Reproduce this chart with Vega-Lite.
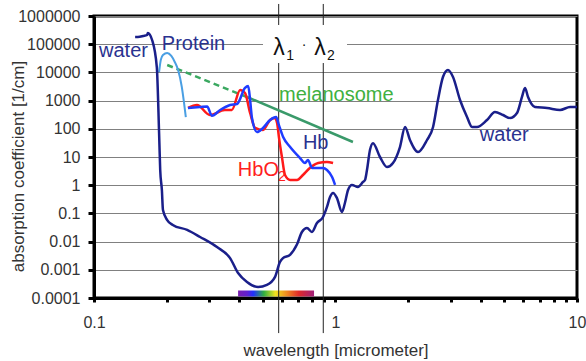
{
  "$schema": "https://vega.github.io/schema/vega-lite/v6.json",
  "width": 483,
  "height": 282,
  "autosize": {"type": "none"},
  "padding": {"left": 94, "top": 16, "right": 9, "bottom": 63},
  "background": "white",
  "config": {
    "view": {"stroke": "black", "strokeWidth": 3},
    "font": "Liberation Sans",
    "axis": {
      "domainColor": "black", "domainWidth": 3, "tickColor": "black", "tickWidth": 3,
      "labelFont": "Liberation Sans", "titleFont": "Liberation Sans",
      "labelColor": "#333333", "titleColor": "#333333", "titleFontWeight": "normal",
      "labelFontSize": 16, "titleFontSize": 17
    }
  },
  "datasets": {
    "curves": [
      {"series": "water", "x": 0.148, "y": 180000},
      {"series": "water", "x": 0.152, "y": 180000},
      {"series": "water", "x": 0.160, "y": 195000},
      {"series": "water", "x": 0.166, "y": 212000},
      {"series": "water", "x": 0.167, "y": 250000},
      {"series": "water", "x": 0.174, "y": 141000},
      {"series": "water", "x": 0.182, "y": 15500},
      {"series": "water", "x": 0.186, "y": 71},
      {"series": "water", "x": 0.188, "y": 3.46},
      {"series": "water", "x": 0.191, "y": 0.68},
      {"series": "water", "x": 0.193, "y": 0.132},
      {"series": "water", "x": 0.201, "y": 0.058},
      {"series": "water", "x": 0.212, "y": 0.039},
      {"series": "water", "x": 0.243, "y": 0.026},
      {"series": "water", "x": 0.275, "y": 0.0146},
      {"series": "water", "x": 0.323, "y": 0.0064},
      {"series": "water", "x": 0.366, "y": 0.0026},
      {"series": "water", "x": 0.395, "y": 0.00077},
      {"series": "water", "x": 0.430, "y": 0.00037},
      {"series": "water", "x": 0.478, "y": 0.000245},
      {"series": "water", "x": 0.520, "y": 0.00029},
      {"series": "water", "x": 0.562, "y": 0.00056},
      {"series": "water", "x": 0.589, "y": 0.0019},
      {"series": "water", "x": 0.606, "y": 0.0026},
      {"series": "water", "x": 0.648, "y": 0.0034},
      {"series": "water", "x": 0.693, "y": 0.008},
      {"series": "water", "x": 0.726, "y": 0.0219},
      {"series": "water", "x": 0.762, "y": 0.0303},
      {"series": "water", "x": 0.799, "y": 0.0219},
      {"series": "water", "x": 0.838, "y": 0.0457},
      {"series": "water", "x": 0.888, "y": 0.0745},
      {"series": "water", "x": 0.922, "y": 0.169},
      {"series": "water", "x": 0.949, "y": 0.382},
      {"series": "water", "x": 0.977, "y": 0.53},
      {"series": "water", "x": 1.014, "y": 0.35},
      {"series": "water", "x": 1.064, "y": 0.112},
      {"series": "water", "x": 1.094, "y": 0.234},
      {"series": "water", "x": 1.127, "y": 0.68},
      {"series": "water", "x": 1.170, "y": 1.02},
      {"series": "water", "x": 1.239, "y": 0.86},
      {"series": "water", "x": 1.300, "y": 1.30},
      {"series": "water", "x": 1.325, "y": 1.53},
      {"series": "water", "x": 1.350, "y": 3.46},
      {"series": "water", "x": 1.389, "y": 17.7},
      {"series": "water", "x": 1.430, "y": 31},
      {"series": "water", "x": 1.528, "y": 10},
      {"series": "water", "x": 1.634, "y": 4.4},
      {"series": "water", "x": 1.730, "y": 6.1},
      {"series": "water", "x": 1.849, "y": 22.6},
      {"series": "water", "x": 1.941, "y": 116},
      {"series": "water", "x": 2.034, "y": 40},
      {"series": "water", "x": 2.197, "y": 15},
      {"series": "water", "x": 2.393, "y": 40},
      {"series": "water", "x": 2.535, "y": 116},
      {"series": "water", "x": 2.656, "y": 1050},
      {"series": "water", "x": 2.786, "y": 6870},
      {"series": "water", "x": 2.922, "y": 12200},
      {"series": "water", "x": 3.066, "y": 6870},
      {"series": "water", "x": 3.278, "y": 1050},
      {"series": "water", "x": 3.505, "y": 262},
      {"series": "water", "x": 3.676, "y": 116},
      {"series": "water", "x": 3.854, "y": 116},
      {"series": "water", "x": 4.240, "y": 205},
      {"series": "water", "x": 4.575, "y": 394},
      {"series": "water", "x": 4.939, "y": 308},
      {"series": "water", "x": 5.280, "y": 241},
      {"series": "water", "x": 5.643, "y": 363},
      {"series": "water", "x": 5.918, "y": 1343},
      {"series": "water", "x": 6.09, "y": 2800},
      {"series": "water", "x": 6.27, "y": 1343},
      {"series": "water", "x": 6.70, "y": 593},
      {"series": "water", "x": 7.52, "y": 547},
      {"series": "water", "x": 8.51, "y": 464},
      {"series": "water", "x": 9.36, "y": 593},
      {"series": "water", "x": 10, "y": 593},
      {"series": "Protein", "x": 0.186, "y": 10300},
      {"series": "Protein", "x": 0.189, "y": 27500},
      {"series": "Protein", "x": 0.193, "y": 41400},
      {"series": "Protein", "x": 0.201, "y": 48700},
      {"series": "Protein", "x": 0.209, "y": 38200},
      {"series": "Protein", "x": 0.216, "y": 23400},
      {"series": "Protein", "x": 0.223, "y": 12200},
      {"series": "Protein", "x": 0.231, "y": 3030},
      {"series": "Protein", "x": 0.236, "y": 822},
      {"series": "Protein", "x": 0.240, "y": 262},
      {"series": "HbO2", "x": 0.245, "y": 550},
      {"series": "HbO2", "x": 0.267, "y": 698},
      {"series": "HbO2", "x": 0.302, "y": 308},
      {"series": "HbO2", "x": 0.348, "y": 464},
      {"series": "HbO2", "x": 0.372, "y": 464},
      {"series": "HbO2", "x": 0.403, "y": 2380},
      {"series": "HbO2", "x": 0.422, "y": 1860},
      {"series": "HbO2", "x": 0.443, "y": 363},
      {"series": "HbO2", "x": 0.465, "y": 107},
      {"series": "HbO2", "x": 0.501, "y": 91},
      {"series": "HbO2", "x": 0.536, "y": 205},
      {"series": "HbO2", "x": 0.561, "y": 241},
      {"series": "HbO2", "x": 0.573, "y": 161},
      {"series": "HbO2", "x": 0.583, "y": 51},
      {"series": "HbO2", "x": 0.600, "y": 10},
      {"series": "HbO2", "x": 0.618, "y": 2.3},
      {"series": "HbO2", "x": 0.649, "y": 1.53},
      {"series": "HbO2", "x": 0.693, "y": 1.53},
      {"series": "HbO2", "x": 0.733, "y": 2.3},
      {"series": "HbO2", "x": 0.783, "y": 4.07},
      {"series": "HbO2", "x": 0.848, "y": 6.1},
      {"series": "HbO2", "x": 0.922, "y": 6.65},
      {"series": "HbO2", "x": 0.977, "y": 6.1},
      {"series": "Hb", "x": 0.245, "y": 547},
      {"series": "Hb", "x": 0.275, "y": 593},
      {"series": "Hb", "x": 0.294, "y": 620},
      {"series": "Hb", "x": 0.308, "y": 290},
      {"series": "Hb", "x": 0.333, "y": 464},
      {"series": "Hb", "x": 0.366, "y": 698},
      {"series": "Hb", "x": 0.391, "y": 757},
      {"series": "Hb", "x": 0.422, "y": 2800},
      {"series": "Hb", "x": 0.435, "y": 3300},
      {"series": "Hb", "x": 0.443, "y": 1050},
      {"series": "Hb", "x": 0.451, "y": 241},
      {"series": "Hb", "x": 0.473, "y": 77},
      {"series": "Hb", "x": 0.501, "y": 107},
      {"series": "Hb", "x": 0.536, "y": 205},
      {"series": "Hb", "x": 0.568, "y": 262},
      {"series": "Hb", "x": 0.583, "y": 136},
      {"series": "Hb", "x": 0.607, "y": 51},
      {"series": "Hb", "x": 0.649, "y": 22.6},
      {"series": "Hb", "x": 0.713, "y": 9.2},
      {"series": "Hb", "x": 0.748, "y": 6.1},
      {"series": "Hb", "x": 0.769, "y": 7.8},
      {"series": "Hb", "x": 0.800, "y": 4.07},
      {"series": "Hb", "x": 0.838, "y": 4.07},
      {"series": "Hb", "x": 0.887, "y": 4.07},
      {"series": "Hb", "x": 0.922, "y": 3.46},
      {"series": "Hb", "x": 0.968, "y": 1.95},
      {"series": "Hb", "x": 0.996, "y": 1.02}
    ],
    "melanosome": [
      {"part": "dashed", "x": 0.201, "y": 18300},
      {"part": "dashed", "x": 0.430, "y": 1343},
      {"part": "solid", "x": 0.430, "y": 1343},
      {"part": "solid", "x": 1.181, "y": 34}
    ],
    "lambdas": [
      {"name": "λ1 top", "x": 0.5817, "y": 2670000, "y2": 480000},
      {"name": "λ1", "x": 0.5817, "y": 21500, "y2": 0.0000057},
      {"name": "λ2 top", "x": 0.890, "y": 2670000, "y2": 480000},
      {"name": "λ2", "x": 0.890, "y": 21500, "y2": 0.0000057}
    ],
    "labelbox": [
      {"x": 0.501, "x2": 1.116, "y": 480000, "y2": 21500}
    ],
    "spectrum": [
      {"x": 0.395, "x2": 0.815, "y": 0.000185, "y2": 0.000113}
    ],
    "labels": [
      {"text": "water", "kind": "navy", "x": 0.1049, "y": 35200},
      {"text": "Protein", "kind": "navy", "x": 0.191, "y": 62200},
      {"text": "melanosome", "kind": "green", "x": 0.584, "y": 1000},
      {"text": "Hb", "kind": "navy", "x": 0.733, "y": 19.2},
      {"text": "HbO", "kind": "red", "x": 0.394, "y": 2.12},
      {"text": "water", "kind": "navy", "x": 3.96, "y": 36.9}
    ],
    "lambdatext": [
      {"text": "λ", "kind": "black", "x": 0.583, "y": 41400},
      {"text": "λ", "kind": "black", "x": 0.863, "y": 41400}
    ],
    "subs": [
      {"text": "1", "kind": "black", "x": 0.649, "y": 27500},
      {"text": "·", "kind": "black", "x": 0.741, "y": 67600},
      {"text": "2", "kind": "black", "x": 0.957, "y": 27500},
      {"text": "2", "kind": "red", "x": 0.600, "y": 1.41}
    ]
  },
  "encoding": {
    "x": {"field": "x", "type": "quantitative", "scale": {"type": "log", "domain": [0.1, 10]},
      "axis": {
        "values": [0.1,0.2,0.3,0.4,0.5,0.6,0.7,0.8,0.9,1,2,3,4,5,6,7,8,9,10],
        "labelExpr": "(datum.value == 0.1 || datum.value == 1 || datum.value == 10) ? '' + datum.value : ''",
        "grid": false, "tickSize": 4, "labelPadding": 12, "labelOverlap": false, "labelFlush": false,
        "title": "wavelength [micrometer]", "titleY": 52, "titleBaseline": "middle"
      }},
    "y": {"field": "y", "type": "quantitative", "scale": {"type": "log", "domain": [0.0001, 1000000]},
      "axis": {
        "values": [0.0001,0.001,0.01,0.1,1,10,100,1000,10000,100000,1000000],
        "labelExpr": "'' + datum.value",
        "grid": true, "gridColor": "#808080", "gridWidth": 1,
        "tickSize": 6, "labelPadding": 8, "labelOverlap": false, "labelFlush": false,
        "title": "absorption coefficient [1/cm]", "titleX": -76, "titleY": 150,
        "titleAngle": -90, "titleAlign": "center", "titleBaseline": "middle"
      }}
  },
  "layer": [
    {
      "data": {"name": "labelbox"},
      "mark": {"type": "rect", "color": "white"},
      "encoding": {
        "x2": {"field": "x2"},
        "y2": {"field": "y2"}
      }
    },
    {
      "data": {"name": "spectrum"},
      "mark": {"type": "rect", "color": {"gradient": "linear", "x1": 0, "y1": 0, "x2": 1, "y2": 0,
        "stops": [
          {"offset": 0, "color": "#7a1fb0"},
          {"offset": 0.12, "color": "#6020d0"},
          {"offset": 0.2, "color": "#2030ff"},
          {"offset": 0.34, "color": "#30b040"},
          {"offset": 0.49, "color": "#f0e020"},
          {"offset": 0.64, "color": "#f08a20"},
          {"offset": 0.8, "color": "#e02a2a"},
          {"offset": 1, "color": "#a0207a"}
        ]}},
      "encoding": {
        "x2": {"field": "x2"},
        "y2": {"field": "y2"}
      }
    },
    {
      "data": {"name": "lambdas"},
      "mark": {"type": "rule", "color": "#222222", "strokeWidth": 1},
      "encoding": {
        "y2": {"field": "y2"}
      }
    },
    {
      "data": {"name": "melanosome"},
      "transform": [{"filter": "datum.part == 'dashed'"}],
      "mark": {"type": "line", "color": "#3aa860", "strokeWidth": 2.5, "strokeDash": [6, 4]},
      "encoding": {}
    },
    {
      "data": {"name": "melanosome"},
      "transform": [{"filter": "datum.part == 'solid'"}],
      "mark": {"type": "line", "color": "#3a9a6a", "strokeWidth": 2.5},
      "encoding": {}
    },
    {
      "data": {"name": "curves"},
      "transform": [{"filter": "datum.series == 'Protein'"}],
      "mark": {"type": "line", "color": "#4a9fe3", "strokeWidth": 2, "interpolate": "monotone"},
      "encoding": {}
    },
    {
      "data": {"name": "curves"},
      "transform": [{"filter": "datum.series == 'HbO2'"}],
      "mark": {"type": "line", "color": "#ff1a1a", "strokeWidth": 2.5, "interpolate": "monotone"},
      "encoding": {}
    },
    {
      "data": {"name": "curves"},
      "transform": [{"filter": "datum.series == 'Hb'"}],
      "mark": {"type": "line", "color": "#1f3cff", "strokeWidth": 2.5, "interpolate": "monotone"},
      "encoding": {}
    },
    {
      "data": {"name": "curves"},
      "transform": [{"filter": "datum.series == 'water'"}],
      "mark": {"type": "line", "color": "#1a1f8a", "strokeWidth": 2.5, "interpolate": "monotone"},
      "encoding": {}
    },
    {
      "data": {"name": "labels"},
      "mark": {"type": "text", "fontSize": 20, "align": "left", "baseline": "alphabetic", "font": "Liberation Sans"},
      "encoding": {
        "text": {"field": "text"},
        "color": {"field": "kind", "type": "nominal", "legend": null,
          "scale": {"domain": ["navy", "green", "red", "black"], "range": ["#2a3290", "#40b040", "#ff2020", "#111111"]}}
      }
    },
    {
      "data": {"name": "lambdatext"},
      "mark": {"type": "text", "fontSize": 23, "align": "center", "baseline": "alphabetic", "font": "Liberation Sans"},
      "encoding": {
        "text": {"field": "text"},
        "color": {"field": "kind", "type": "nominal", "legend": null}
      }
    },
    {
      "data": {"name": "subs"},
      "mark": {"type": "text", "fontSize": 14, "align": "center", "baseline": "alphabetic", "font": "Liberation Sans"},
      "encoding": {
        "text": {"field": "text"},
        "color": {"field": "kind", "type": "nominal", "legend": null}
      }
    }
  ]
}
